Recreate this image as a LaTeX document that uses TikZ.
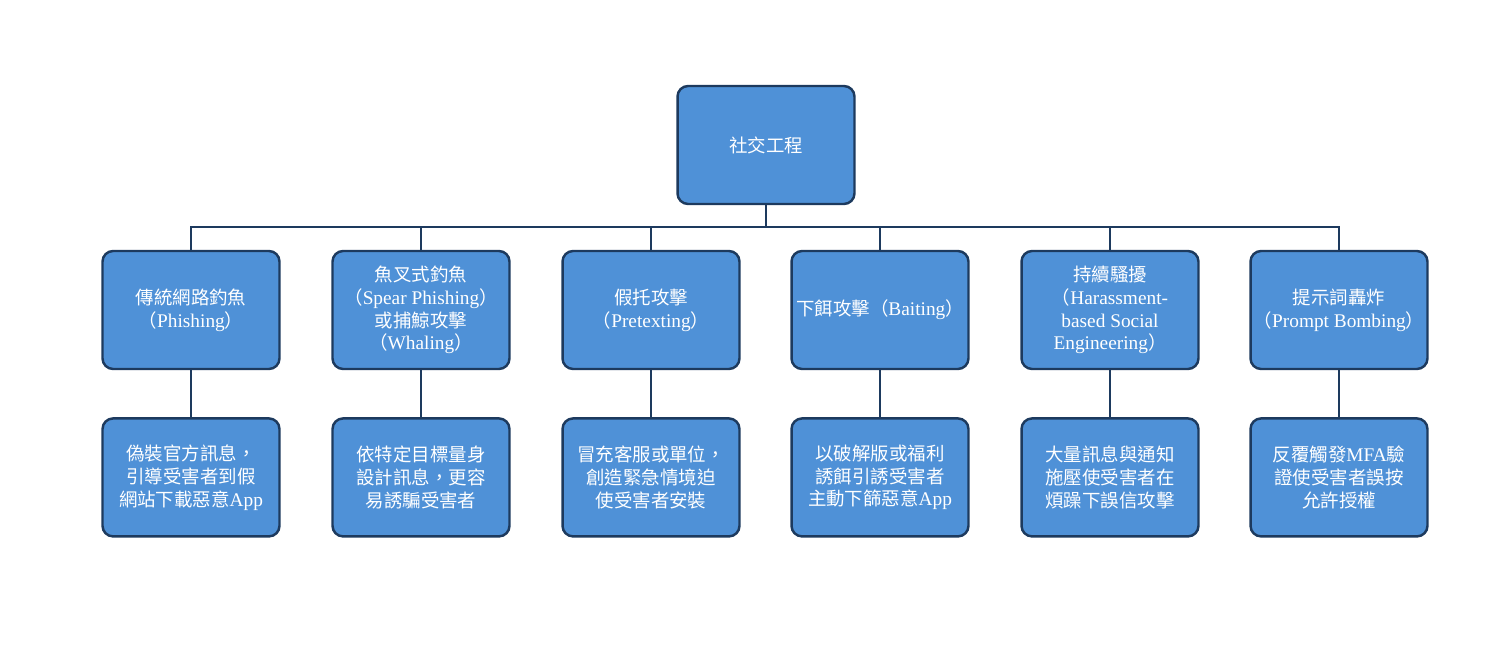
\documentclass[tikz,border=0pt]{standalone}
\usepackage{fontspec}
\setmainfont{Liberation Serif}
\newfontfamily\cjk{Noto Sans CJK TC}
\newcommand{\zh}[1]{{\cjk\fontsize{10.5}{13}\selectfont #1}}
\usetikzlibrary{positioning}
\definecolor{BoxBlue}{HTML}{4F91D7}
\definecolor{EdgeNavy}{HTML}{1D3A5E}

\tikzset{
  attack/.style={draw=EdgeNavy, fill=BoxBlue, line width=1.4pt, rounded corners=6pt,
    minimum width=3.54cm, minimum height=2.36cm, inner sep=0.5pt,
    text=white, align=center, font=\fontsize{11}{13}\selectfont},
  link/.style={draw=EdgeNavy, line width=1.2pt}
}

\begin{document}
\begin{tikzpicture}[x=0.02cm,y=-0.02cm]
        \useasboundingbox (0,0) rectangle (1489,661);
        % root
        \node[attack] (root) at (766,145) {\zh{社交工程}};
        \coordinate (bus) at (766,227);
        % attack types
        \node[attack] (cat1) at (191,310) {\zh{傳統網路釣魚}\\\zh{（}Phishing\zh{）}};
        \node[attack] (cat2) at (421,310) {\zh{魚叉式釣魚}\\\zh{（}Spear Phishing\zh{）}\\\zh{或捕鯨攻擊}\\\zh{（}Whaling\zh{）}};
        \node[attack] (cat3) at (651,310) {\zh{假托攻擊}\\\zh{（}Pretexting\zh{）}};
        \node[attack] (cat4) at (880,310) {\zh{下餌攻擊（}Baiting\zh{）}};
        \node[attack] (cat5) at (1110,310) {\zh{持續騷擾}\\\zh{（}Harassment-\\based Social\\Engineering\zh{）}};
        \node[attack] (cat6) at (1339,310) {\zh{提示詞轟炸}\\\zh{（}Prompt Bombing\zh{）}};
        % descriptions
        \node[attack, below=0.94cm of cat1] (desc1) {\zh{偽裝官方訊息，}\\\zh{引導受害者到假}\\\zh{網站下載惡意}App};
        \node[attack, below=0.94cm of cat2] (desc2) {\zh{依特定目標量身}\\\zh{設計訊息，更容}\\\zh{易誘騙受害者}};
        \node[attack, below=0.94cm of cat3] (desc3) {\zh{冒充客服或單位，}\\\zh{創造緊急情境迫}\\\zh{使受害者安裝}};
        \node[attack, below=0.94cm of cat4] (desc4) {\zh{以破解版或福利}\\\zh{誘餌引誘受害者}\\\zh{主動下篩惡意}App};
        \node[attack, below=0.94cm of cat5] (desc5) {\zh{大量訊息與通知}\\\zh{施壓使受害者在}\\\zh{煩躁下誤信攻擊}};
        \node[attack, below=0.94cm of cat6] (desc6) {\zh{反覆觸發}MFA\zh{驗}\\\zh{證使受害者誤按}\\\zh{允許授權}};
        % connectors
        \draw[link] (root.south) -- (bus);
        \foreach \i in {1,...,6}
        {
            \draw[link] (bus) -| (cat\i.north);
            \draw[link] (cat\i.south) -- (desc\i.north);
        }
\end{tikzpicture}
\end{document}
